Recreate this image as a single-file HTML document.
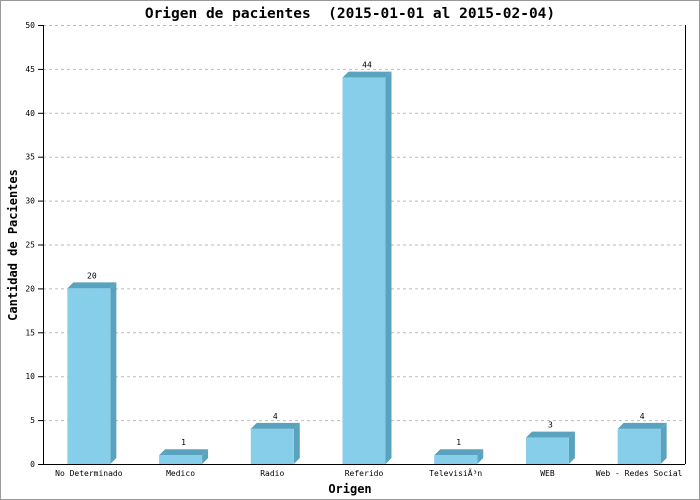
<!DOCTYPE html>
<html><head><meta charset="utf-8"><style>
html,body{margin:0;padding:0;background:#fff}
svg{display:block;font-family:"DejaVu Sans Mono","Liberation Mono",monospace}
</style></head><body>
<svg id="c" width="700" height="500" xmlns="http://www.w3.org/2000/svg">
<rect x="0.5" y="0.5" width="699" height="499" fill="#fff" stroke="#999"/>
<text x="350" y="18" text-anchor="middle" font-size="14.5" font-weight="bold" fill="#000" style="white-space:pre">Origen de pacientes  (2015-01-01 al 2015-02-04)</text>
<text x="350" y="493" text-anchor="middle" font-size="12" font-weight="bold">Origen</text>
<text transform="translate(17,245) rotate(-90)" text-anchor="middle" font-size="12" font-weight="bold">Cantidad de Pacientes</text>
<g id="plot"></g>
</svg>
<script>
const categories=["No Determinado","Medico","Radio","Referido","TelevisiÃ³n","WEB","Web - Redes Social"];
const values=[20,1,4,44,1,3,4];
const yTicks=[0,5,10,15,20,25,30,35,40,45,50];
const X0=43,X1=685,Y0=464,Y1=25,YMAX=50;
const ns="http://www.w3.org/2000/svg";
const g=document.getElementById('plot');
function y(v){return Y0-(v/YMAX)*(Y0-Y1);}
function slot(i){return X0+(i+0.5)*(X1-X0)/categories.length;}
function mk(t,a){const e=document.createElementNS(ns,t);for(const k in a)e.setAttribute(k,a[k]);g.appendChild(e);return e;}
yTicks.forEach(t=>{
  if(t>0){const l=mk('line',{x1:X0,x2:X1,y1:y(t)+0.5,y2:y(t)+0.5,stroke:'#bbb','stroke-dasharray':'3,3'});
  
  }
  const tk=mk('line',{x1:X0-5,x2:X0,y1:y(t)+0.5,y2:y(t)+0.5,stroke:'#000'});
  
  
  const tx=mk('text',{x:X0-8,y:y(t)+3,'text-anchor':'end','font-size':'8'});
  tx.textContent=t;
  
  
});
const ax=mk('line',{x1:X0+0.5,x2:X0+0.5,y1:Y1,y2:Y0,stroke:'#000'});


const ax2=mk('line',{x1:X1+0.5,x2:X1+0.5,y1:Y1,y2:Y0,stroke:'#000'});


const xa=mk('line',{x1:X0,x2:X1,y1:Y0+0.5,y2:Y0+0.5,stroke:'#000'});


const W=43,D=6;
values.forEach((v,i)=>{
  const cx=slot(i),x=cx-W/2,top=y(v);
  const side=mk('polygon',{points:`${x+W},${top} ${x+W+D},${top-D} ${x+W+D},${Y0-D} ${x+W},${Y0}`,fill:'#5aa3bf'});
  
  
  const tp=mk('polygon',{points:`${x},${top} ${x+D},${top-D} ${x+W+D},${top-D} ${x+W},${top}`,fill:'#5aa3bf'});
  
  
  const r=mk('rect',{x:x,y:top,width:W,height:Y0-top,fill:'#87ceeb'});
  
  
  const lb=mk('text',{x:cx+3,y:top-10,'text-anchor':'middle','font-size':'8'});
  lb.textContent=v;
  
  
  const cl=mk('text',{x:cx,y:Y0+12,'text-anchor':'middle','font-size':'8'});
  cl.textContent=categories[i];
  
  
});
</script>
</body></html>
